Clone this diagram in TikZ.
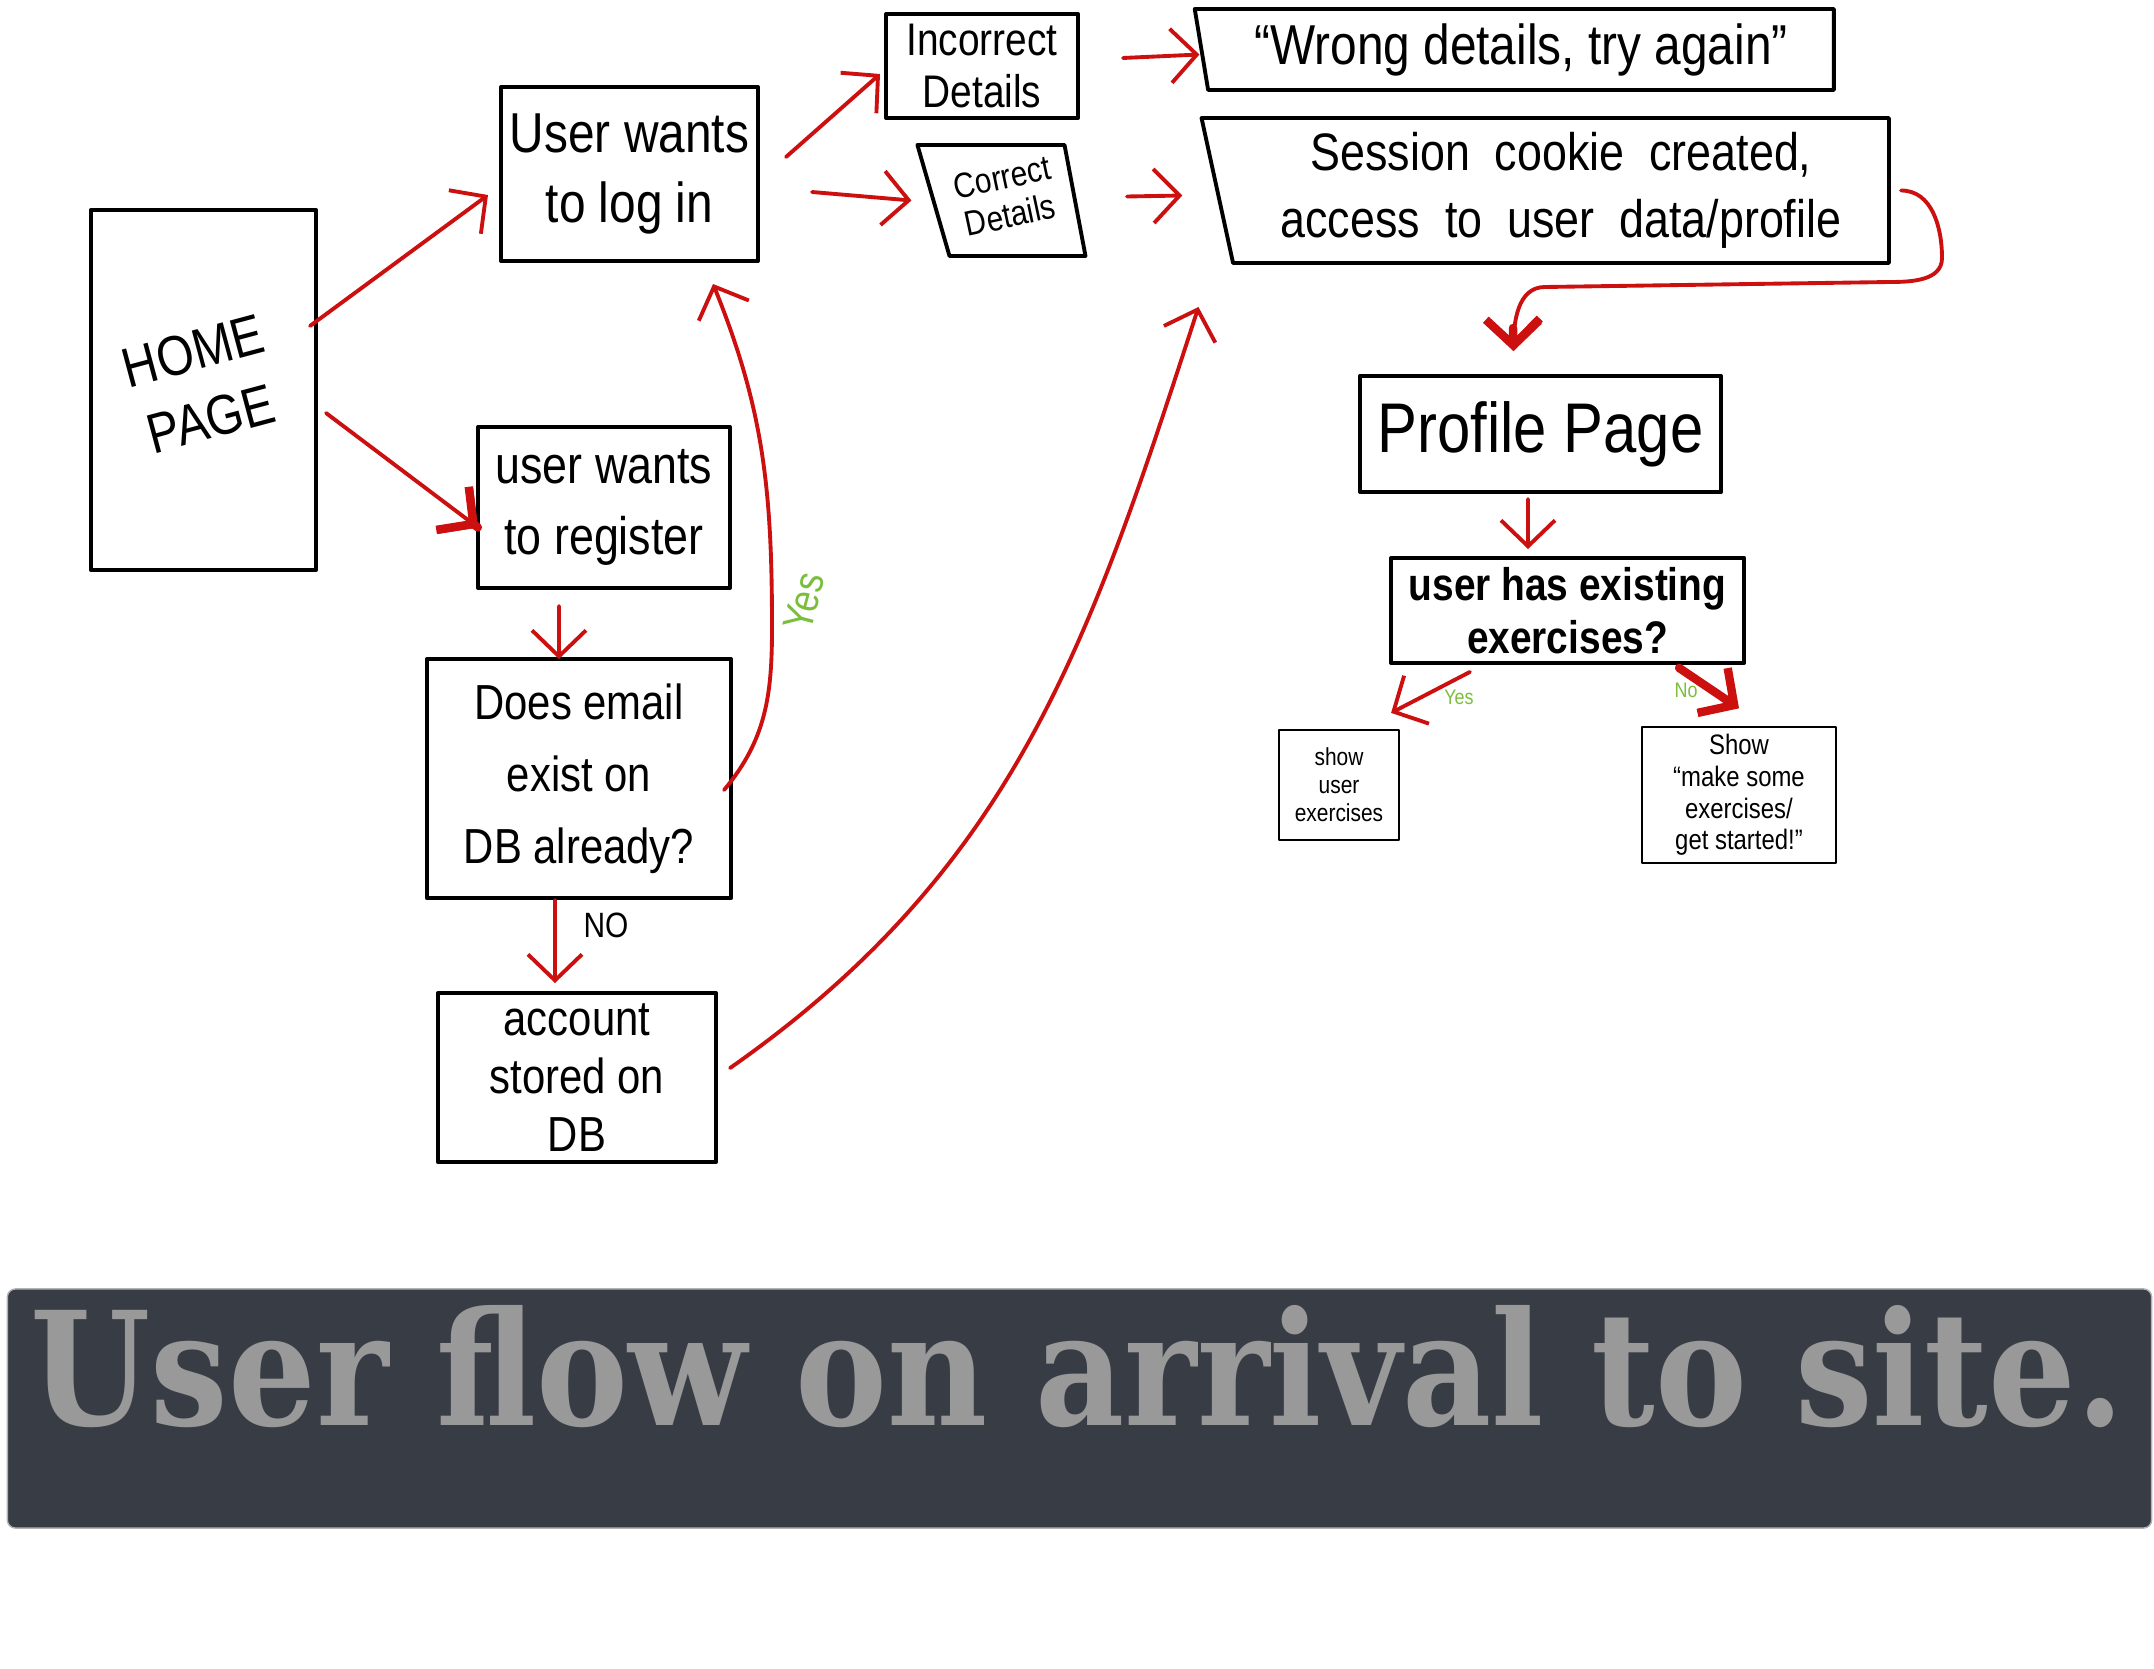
\documentclass[tikz,border=0pt]{standalone}
\usepackage{fontspec}
\setmainfont{Liberation Sans}
\newfontfamily\handfont{Liberation Sans}[FakeStretch=0.85]
\newfontfamily\slabfont{DejaVu Serif}
\usepackage{tikz}
\usetikzlibrary{positioning}
\usetikzlibrary{shapes.geometric}
\usetikzlibrary{arrows.meta}
\definecolor{penred}{RGB}{204,16,16}
\definecolor{pengreen}{RGB}{122,190,60}
\definecolor{slate}{RGB}{56,60,69}
\definecolor{titlegray}{RGB}{153,153,153}

\begin{document}
\begin{tikzpicture}[
            x = 0.01cm, y = 0.01cm, % one unit is one pixel of the sketch
            > = {Straight Barb[length=2.6mm,width=5.4mm]}, % open pen arrow
            line cap = round,
            line join = round
            ]

        \tikzstyle{box}=[
            draw,
            line width = 1.1pt,
            align = center,
            inner sep = 2pt
        ]
        \tikzstyle{thin box}=[box, line width = .6pt]
        \tikzstyle{slanted}=[box, trapezium, trapezium stretches = true]
        \tikzstyle{flow}=[->, draw = penred, line width = 1.1pt]
        \tikzstyle{heavy flow}=[flow, line width = 2.4pt]
        \tikzstyle{note}=[text = pengreen]

        \useasboundingbox (0,0) rectangle (2154,1668);

	% login side
	\node[box, inner sep=0pt, minimum width=2.25cm, minimum height=3.6cm] (home) at (203.5,1278) {\rotatebox{15}{\handfont\fontsize{16}{20}\selectfont\begin{tabular}{c}HOME\\PAGE\end{tabular}}};
	\node[box, minimum width=2.57cm, minimum height=1.74cm, font=\handfont\fontsize{16}{20}\selectfont] (login) at (629.5,1494) {User wants\\to log in};
	\node[box, minimum width=1.92cm, minimum height=1.04cm, font=\handfont\fontsize{13}{15}\selectfont] (incorrect) at (982,1602) {Incorrect\\Details};
	\node[slanted, trapezium left angle=108, trapezium right angle=78, minimum width=1.68cm, minimum height=1.11cm, inner sep=0pt] (correct) at (1007,1467.5) {\rotatebox{12}{\handfont\fontsize{10}{11}\selectfont\begin{tabular}{@{}c@{}}Correct\\Details\end{tabular}}};
	\node[slanted, trapezium left angle=100, trapezium right angle=90, minimum width=6.39cm, minimum height=.81cm, font=\handfont\fontsize{16}{19}\selectfont] (wrong) at (1521,1618.5) {“Wrong details, try again”};
	\node[slanted, trapezium left angle=102, trapezium right angle=90, minimum width=6.88cm, minimum height=1.45cm, font=\handfont\fontsize{15}{19}\selectfont] (session) at (1561,1477.5) {Session \ cookie \ created,\\access \ to \ user \ data/profile};

	% profile side
	\node[box, minimum width=3.61cm, minimum height=1.16cm, font=\handfont\fontsize{20}{24}\selectfont] (profile) at (1540.5,1234) {Profile Page};
	\node[box, minimum width=3.53cm, minimum height=1.05cm, font=\handfont\bfseries\fontsize{13}{15}\selectfont] (question) [below=0.62cm of profile, xshift=0.27cm] {user has existing\\exercises?};
	\node[thin box, minimum width=1.2cm, minimum height=1.1cm, font=\handfont\fontsize{7}{8}\selectfont] (showex) at (1339,883) {show\\user\\exercises};
	\node[thin box, minimum width=1.94cm, minimum height=1.3cm, font=\handfont\fontsize{8}{9}\selectfont] (showstart) at (1739,873) {Show\\“make some\\exercises/\\get started!”};

	% register side
	\node[box, minimum width=2.52cm, minimum height=1.61cm, font=\handfont\fontsize{15}{20}\selectfont] (register) at (604,1160.5) {user wants\\to register};
	\node[box, minimum width=3.04cm, minimum height=2.39cm, font=\handfont\fontsize{14}{20.5}\selectfont] (email) [below=0.67cm of register, xshift=-0.25cm] {Does email\\exist on\\DB already?};
	\node[box, minimum width=2.78cm, minimum height=1.69cm, font=\handfont\fontsize{14}{16.5}\selectfont] (account) [below=0.91cm of email, xshift=-0.02cm] {account\\stored on\\DB};

	% labels
	\node[note, rotate=75, font=\handfont\fontsize{12}{12}\selectfont] (yes1) at (804,1066) {Yes};
	\node[font=\handfont\fontsize{10}{10}\selectfont] (no1) at (606,743) {NO};
	\node[note, font=\handfont\fontsize{6}{6}\selectfont] (yes2) at (1459,971) {Yes};
	\node[note, font=\handfont\fontsize{6}{6}\selectfont] (no2) at (1686,978) {No};

	% connectors
	\draw[flow] ([xshift=-.08cm,yshift=.64cm]home.east) -- ([xshift=-.11cm,yshift=-.21cm]login.west);
	\draw[flow] ([xshift=.08cm,yshift=-.23cm]home.east) -- ([xshift=.02cm,yshift=-.2cm]register.west);
	\draw[heavy flow, shorten <=1.9cm] ([xshift=.08cm,yshift=-.23cm]home.east) -- ([xshift=.02cm,yshift=-.2cm]register.west);
	\draw[flow] ([xshift=.26cm,yshift=.17cm]login.east) -- ([xshift=-.04cm,yshift=-.08cm]incorrect.west);
	\draw[flow] ([xshift=.52cm,yshift=-.18cm]login.east) -- ([xshift=-.2cm]correct.west);
	\draw[flow] ([xshift=.43cm,yshift=.08cm]incorrect.east) -- ([yshift=-.05cm]wrong.west);
	\draw[flow] ([xshift=.5cm,yshift=.04cm]correct.east) -- ([xshift=-.33cm,yshift=-.05cm]session.west);
	\draw[flow] ([xshift=.1cm]session.east) to[out=0,in=90] (1942,1410) to[out=-90,in=0] (1890,1386) -- (1545,1381) to[out=180,in=90] ([xshift=-.27cm,yshift=.23cm]profile.north);
	\draw[heavy flow, -{Straight Barb[length=2.6mm,width=5.4mm]}] (1513,1340) -- ([xshift=-.27cm,yshift=.23cm]profile.north);
	\draw[flow] ([xshift=-.45cm,yshift=-.16cm]register.south) -- ([xshift=-.2cm,yshift=-.02cm]email.north);
	\draw[flow] ([xshift=-.24cm]email.south) -- ([xshift=-.22cm,yshift=.08cm]account.north);
	\draw[flow] ([xshift=-.09cm,yshift=-.115cm]email.east) to[out=50,in=-90] (772,1040) to[out=90,in=-68] ([xshift=.835cm,yshift=-.21cm]login.south);
	\draw[flow] ([xshift=.12cm,yshift=.095cm]account.east) to[out=35,in=-108] ([xshift=-.33cm,yshift=-.42cm]session.bottom left corner);
	\draw[flow] ([xshift=-.125cm,yshift=-.05cm]profile.south) -- ([xshift=-.395cm,yshift=.07cm]question.north);
	\draw[flow] ([xshift=-.975cm,yshift=-.07cm]question.south) -- ([xshift=-.09cm,yshift=.16cm]showex.north east);
	\draw[heavy flow] ([xshift=1.115cm,yshift=-.03cm]question.south) -- ([yshift=.18cm]showstart.north);

	% title bar
	\node[fill=slate, draw=gray!60, line width=.4pt, rounded corners=.08cm, minimum width=21.43cm, minimum height=2.39cm] (banner) at (1079.5,259.5) {};
	\node[anchor=base west, inner sep=0pt, text=titlegray, font=\slabfont\bfseries] (title) at (30,243) {\resizebox{20.92cm}{1.2cm}{User flow on arrival to site.}};

\end{tikzpicture}
\end{document}
